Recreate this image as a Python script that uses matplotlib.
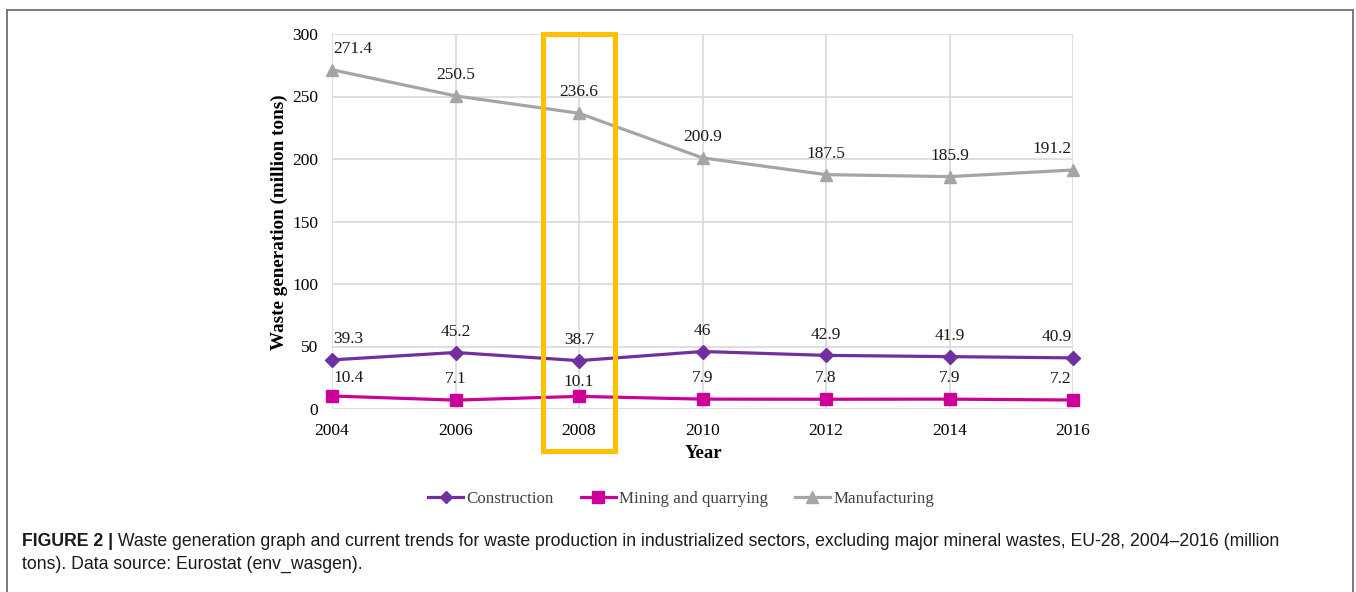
import matplotlib
matplotlib.use("Agg")
import matplotlib.pyplot as plt
from matplotlib.lines import Line2D
from matplotlib.patches import Rectangle

years = [2004, 2006, 2008, 2010, 2012, 2014, 2016]
construction = [39.3, 45.2, 38.7, 46, 42.9, 41.9, 40.9]
mining = [10.4, 7.1, 10.1, 7.9, 7.8, 7.9, 7.2]
manufacturing = [271.4, 250.5, 236.6, 200.9, 187.5, 185.9, 191.2]
series_names = ["Construction", "Mining and quarrying", "Manufacturing"]
highlight_year = 2008
caption_bold = "FIGURE 2 |"
caption_line1 = " Waste generation graph and current trends for waste production in industrialized sectors, excluding major mineral wastes, EU-28, 2004\u20132016 (million"
caption_line2 = "tons). Data source: Eurostat (env_wasgen)."

W, H = 1356, 592
fig = plt.figure(figsize=(W / 100, H / 100), dpi=100)
serif = "Liberation Serif"
sans = "Liberation Sans"

ax = fig.add_axes([332 / W, 1 - 409 / H, (1073 - 332) / W, (409 - 34) / H])
ax.set_xlim(2004, 2016)
ax.set_ylim(0, 300)
ax.set_xticks(years)
ax.set_yticks(range(0, 301, 50))
ax.grid(True, color="#D9D9D9", linewidth=1.2)
ax.set_axisbelow(True)
for s in ax.spines.values():
    s.set_visible(False)
ax.tick_params(length=0, labelsize=12.5)
ax.tick_params(axis="x", pad=10)
ax.tick_params(axis="y", pad=10)
for lab in ax.get_xticklabels() + ax.get_yticklabels():
    lab.set_fontfamily(serif)

colors = ["#7030A0", "#CC0099", "#A5A5A5"]
markers = ["D", "s", "^"]
msizes = [7, 9, 9]
data = [construction, mining, manufacturing]
for vals, c, m, ms, name in zip(data, colors, markers, msizes, series_names):
    ax.plot(years, vals, color=c, marker=m, markersize=ms, linewidth=2.3,
            label=name, clip_on=False, zorder=3)
    for i, (x, v) in enumerate(zip(years, vals)):
        ha = "center"
        dx = 0
        if i == 0:
            ha = "left"
            dx = 1
        elif i == len(years) - 1:
            ha = "right"
            dx = -1
        dy = 15
        if name == "Mining and quarrying":
            dy = 15 if v < 10 else 13
        if name == "Mining and quarrying" and x == highlight_year:
            dy = 10
        ax.annotate("%g" % v, (x, v), xytext=(dx, dy), textcoords="offset points",
                    ha=ha, va="center", fontsize=12.5, family=serif, color="#1a1a1a")

fig.text(279 / W, 1 - 222 / H, "Waste generation (million tons)", rotation=90,
         ha="center", va="center", fontsize=13.8, fontweight="bold", family=serif)
fig.text(703 / W, 1 - 453 / H, "Year", ha="center", va="center",
         fontsize=13.5, fontweight="bold", family=serif)

# highlight rectangle
x0 = highlight_year - 0.58
rect = Rectangle((x0, -33.6), 1.17, 333.6, fill=False, edgecolor="#FFC000",
                 linewidth=3.6, clip_on=False, zorder=4)
ax.add_patch(rect)

# legend
handles = [Line2D([0], [0], color=c, marker=m, markersize=ms - 1, linewidth=2.3)
           for c, m, ms in zip(colors, markers, msizes)]
leg = fig.legend(handles, series_names, loc="center", bbox_to_anchor=(681 / W, 1 - 499 / H),
                 ncol=3, frameon=False, prop={"family": serif, "size": 12.2},
                 handlelength=2.07, handletextpad=0.18, columnspacing=1.6)
for t in leg.get_texts():
    t.set_color("#404040")

# frame
fc = "#707070"
fig.add_artist(Line2D([7 / W, 7 / W], [0, 1 - 10 / H], color=fc, linewidth=1.3, transform=fig.transFigure))
fig.add_artist(Line2D([7 / W, 1353 / W], [1 - 10 / H, 1 - 10 / H], color=fc, linewidth=1.3, transform=fig.transFigure))
fig.add_artist(Line2D([1353 / W, 1353 / W], [0, 1 - 10 / H], color=fc, linewidth=1.3, transform=fig.transFigure))

# caption
cap_size = 12.7
t1 = fig.text(22 / W, 1 - 541 / H, caption_bold, fontsize=cap_size, fontweight="bold",
              family=sans, va="center", ha="left", color="#1a1a1a")
fig.canvas.draw()
bb = t1.get_window_extent()
fig.text(bb.x1 / W, 1 - 541 / H, caption_line1, fontsize=cap_size, family=sans,
         va="center", ha="left", color="#1a1a1a")
fig.text(22 / W, 1 - 564 / H, caption_line2, fontsize=cap_size, family=sans,
         va="center", ha="left", color="#1a1a1a")

fig.savefig("out.png", dpi=100)
